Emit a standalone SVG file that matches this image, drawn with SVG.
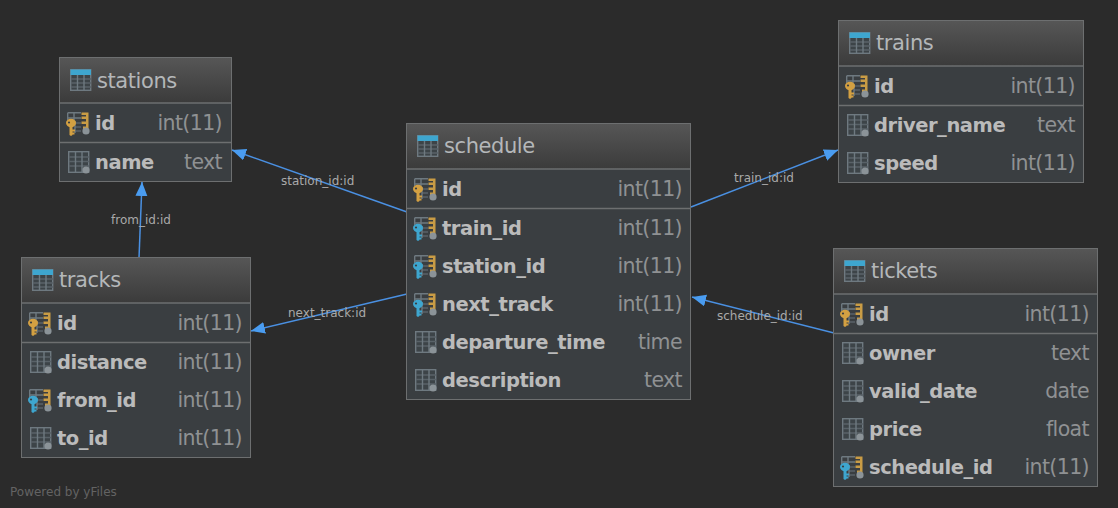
<svg xmlns="http://www.w3.org/2000/svg" width="1118" height="508" viewBox="0 0 1118 508">
<style>
text{font-family:"DejaVu Sans",sans-serif}
.box{fill:#3a3e41;stroke:#6d6f70;stroke-width:1}
.head{fill:url(#hg)}
.sep{stroke:#6d6f70;stroke-width:1.5;fill:none}
.title{font-size:21px;letter-spacing:-.42px;fill:#b4b7b9}
.col{font-size:19.500px;letter-spacing:-.45px;font-weight:bold;fill:#bbbbbb}
.typ{font-size:20.500px;letter-spacing:-.6px;fill:#8f9193;text-anchor:end}
.lbl{font-size:12px;fill:#a9a9a9}
.edge{stroke:#4a90e2;stroke-width:1.5;fill:none}
.g{fill:none;stroke:#6e7980;stroke-width:1.400}
.d{fill:none;stroke:#596268;stroke-width:1.600}
</style>
<defs>
<linearGradient id="hg" x1="0" y1="0" x2="0" y2="1"><stop offset="0" stop-color="#565656"/><stop offset="1" stop-color="#3b3b3b"/></linearGradient>
<marker id="arr" markerUnits="userSpaceOnUse" markerWidth="16" markerHeight="14" refX="14" refY="6" orient="auto"><path d="M0 0L14 6L0 12Z" fill="#4a9cf0"/></marker>
<g id="tbl">
<rect x="0.700" y="0.700" width="20" height="20.600" fill="#3d4448" stroke="#6e7980" stroke-width="1.400"/>
<path class="d" d="M1 10H21M1 14H21M1 18H21"/><path class="g" d="M7.500 6V21M14 6V21"/>
<rect x="0.500" y="0.500" width="20.500" height="5.500" fill="#3ea6cf"/>
</g>
<g id="col">
<rect x="0.700" y="0.700" width="20" height="20.600" fill="#3d4448" stroke="#6e7980" stroke-width="1.400"/>
<path class="d" d="M1 6H21M1 10.500H21M1 15H21"/><path class="g" d="M7.500 1V21M14 1V21"/>
<circle cx="18" cy="19" r="3.600" fill="#8b9398"/>
</g>
<g id="hold">
<path class="g" d="M0.700 0.700H14M0.700 6H14M0.700 0.700V8M7 1V8"/><path class="d" d="M8 11H14M8 15H14M8 19H14"/><path class="g" d="M8 9V21"/>
<path d="M14.500 0.500H21.500V17H16V14.500H19V12H14.500V9.500H19V7H14.500V4.500H19V3H14.500Z" fill="#c99c45"/>
<circle cx="19" cy="19" r="3.600" fill="#8b9398"/>
</g>
<g id="pk"><use href="#hold"/>
<ellipse cx="4" cy="11" rx="5" ry="4.200" fill="#d3a042"/><path d="M2.500 14H5.500V23L4 24L2.500 23Z M5.500 17.500H8V19.500H5.500Z M5.500 20.500H7.500V22.500H5.500Z" fill="#d3a042"/><circle cx="2" cy="10.500" r="1.100" fill="#3a3e41"/>
</g>
<g id="fk"><use href="#hold"/>
<ellipse cx="4" cy="11" rx="5" ry="4.200" fill="#3ea6cf"/><path d="M2.500 14H5.500V23L4 24L2.500 23Z M5.500 17.500H8V19.500H5.500Z M5.500 20.500H7.500V22.500H5.500Z" fill="#3ea6cf"/><circle cx="2" cy="10.500" r="1.100" fill="#3a3e41"/>
</g>
</defs>
<rect width="1118" height="508" fill="#2b2b2b"/>
<g id="connectors">
<path class="edge" marker-end="url(#arr)" d="M407 212L232 150"/>
<path class="edge" marker-end="url(#arr)" d="M139 258L142 182"/>
<path class="edge" marker-end="url(#arr)" d="M407 294L251 331"/>
<path class="edge" marker-end="url(#arr)" d="M691 207L838 150"/>
<path class="edge" marker-end="url(#arr)" d="M834 333L692 297"/>
<text class="lbl" x="281" y="185">station_id:id</text>
<text class="lbl" x="111" y="224">from_id:id</text>
<text class="lbl" x="288" y="317">next_track:id</text>
<text class="lbl" x="734" y="182">train_id:id</text>
<text class="lbl" x="717" y="320">schedule_id:id</text>
</g>
<g id="stations">
<rect class="box" x="59.500" y="57.500" width="172" height="124"/>
<rect class="head" x="60" y="58" width="171" height="45"/>
<path class="sep" d="M60 103H231"/><path class="sep" d="M60 142.500H231"/>
<use href="#tbl" x="70" y="69"/><text class="title" x="97" y="88">stations</text>
<use href="#pk" x="67" y="112"/><text class="col" x="95" y="130">id</text><text class="typ" x="222" y="130">int(11)</text>
<use href="#col" x="68" y="151"/><text class="col" x="95" y="169">name</text><text class="typ" x="222" y="169">text</text>
</g>
<g id="schedule">
<rect class="box" x="406.500" y="123.500" width="284" height="276"/>
<rect class="head" x="407" y="124" width="283" height="45"/>
<path class="sep" d="M407 169H690"/><path class="sep" d="M407 208.500H690"/>
<use href="#tbl" x="417" y="135"/><text class="title" x="444" y="153">schedule</text>
<use href="#pk" x="414" y="178"/><text class="col" x="442" y="196">id</text><text class="typ" x="682" y="196">int(11)</text>
<use href="#fk" x="414" y="217"/><text class="col" x="442" y="235">train_id</text><text class="typ" x="682" y="235">int(11)</text>
<use href="#fk" x="414" y="255"/><text class="col" x="442" y="273">station_id</text><text class="typ" x="682" y="273">int(11)</text>
<use href="#fk" x="414" y="293"/><text class="col" x="442" y="311">next_track</text><text class="typ" x="682" y="311">int(11)</text>
<use href="#col" x="415" y="331"/><text class="col" x="442" y="349">departure_time</text><text class="typ" x="682" y="349">time</text>
<use href="#col" x="415" y="369"/><text class="col" x="442" y="387">description</text><text class="typ" x="682" y="387">text</text>
</g>
<g id="trains">
<rect class="box" x="838.500" y="20.500" width="245" height="162"/>
<rect class="head" x="839" y="21" width="244" height="45"/>
<path class="sep" d="M839 66H1083"/><path class="sep" d="M839 105.500H1083"/>
<use href="#tbl" x="849" y="32"/><text class="title" x="876" y="50">trains</text>
<use href="#pk" x="846" y="75"/><text class="col" x="874" y="93">id</text><text class="typ" x="1075" y="93">int(11)</text>
<use href="#col" x="847" y="114"/><text class="col" x="874" y="132">driver_name</text><text class="typ" x="1075" y="132">text</text>
<use href="#col" x="847" y="152"/><text class="col" x="874" y="170">speed</text><text class="typ" x="1075" y="170">int(11)</text>
</g>
<g id="tickets">
<rect class="box" x="833.500" y="248.500" width="264" height="238"/>
<rect class="head" x="834" y="249" width="263" height="45"/>
<path class="sep" d="M834 294H1097"/><path class="sep" d="M834 333.500H1097"/>
<use href="#tbl" x="844" y="260"/><text class="title" x="871" y="278">tickets</text>
<use href="#pk" x="841" y="303"/><text class="col" x="869" y="321">id</text><text class="typ" x="1089" y="321">int(11)</text>
<use href="#col" x="842" y="342"/><text class="col" x="869" y="360">owner</text><text class="typ" x="1089" y="360">text</text>
<use href="#col" x="842" y="380"/><text class="col" x="869" y="398">valid_date</text><text class="typ" x="1089" y="398">date</text>
<use href="#col" x="842" y="418"/><text class="col" x="869" y="436">price</text><text class="typ" x="1089" y="436">float</text>
<use href="#fk" x="841" y="456"/><text class="col" x="869" y="474">schedule_id</text><text class="typ" x="1089" y="474">int(11)</text>
</g>
<g id="tracks">
<rect class="box" x="21.500" y="257.500" width="229" height="200"/>
<rect class="head" x="22" y="258" width="228" height="45"/>
<path class="sep" d="M22 303H250"/><path class="sep" d="M22 342.500H250"/>
<use href="#tbl" x="32" y="269"/><text class="title" x="59" y="287">tracks</text>
<use href="#pk" x="29" y="312"/><text class="col" x="57" y="330">id</text><text class="typ" x="242" y="330">int(11)</text>
<use href="#col" x="30" y="351"/><text class="col" x="57" y="369">distance</text><text class="typ" x="242" y="369">int(11)</text>
<use href="#fk" x="29" y="389"/><text class="col" x="57" y="407">from_id</text><text class="typ" x="242" y="407">int(11)</text>
<use href="#col" x="30" y="427"/><text class="col" x="57" y="445">to_id</text><text class="typ" x="242" y="445">int(11)</text>
</g>
<text x="10" y="496" font-size="12" fill="#636363">Powered by yFiles</text>
</svg>
